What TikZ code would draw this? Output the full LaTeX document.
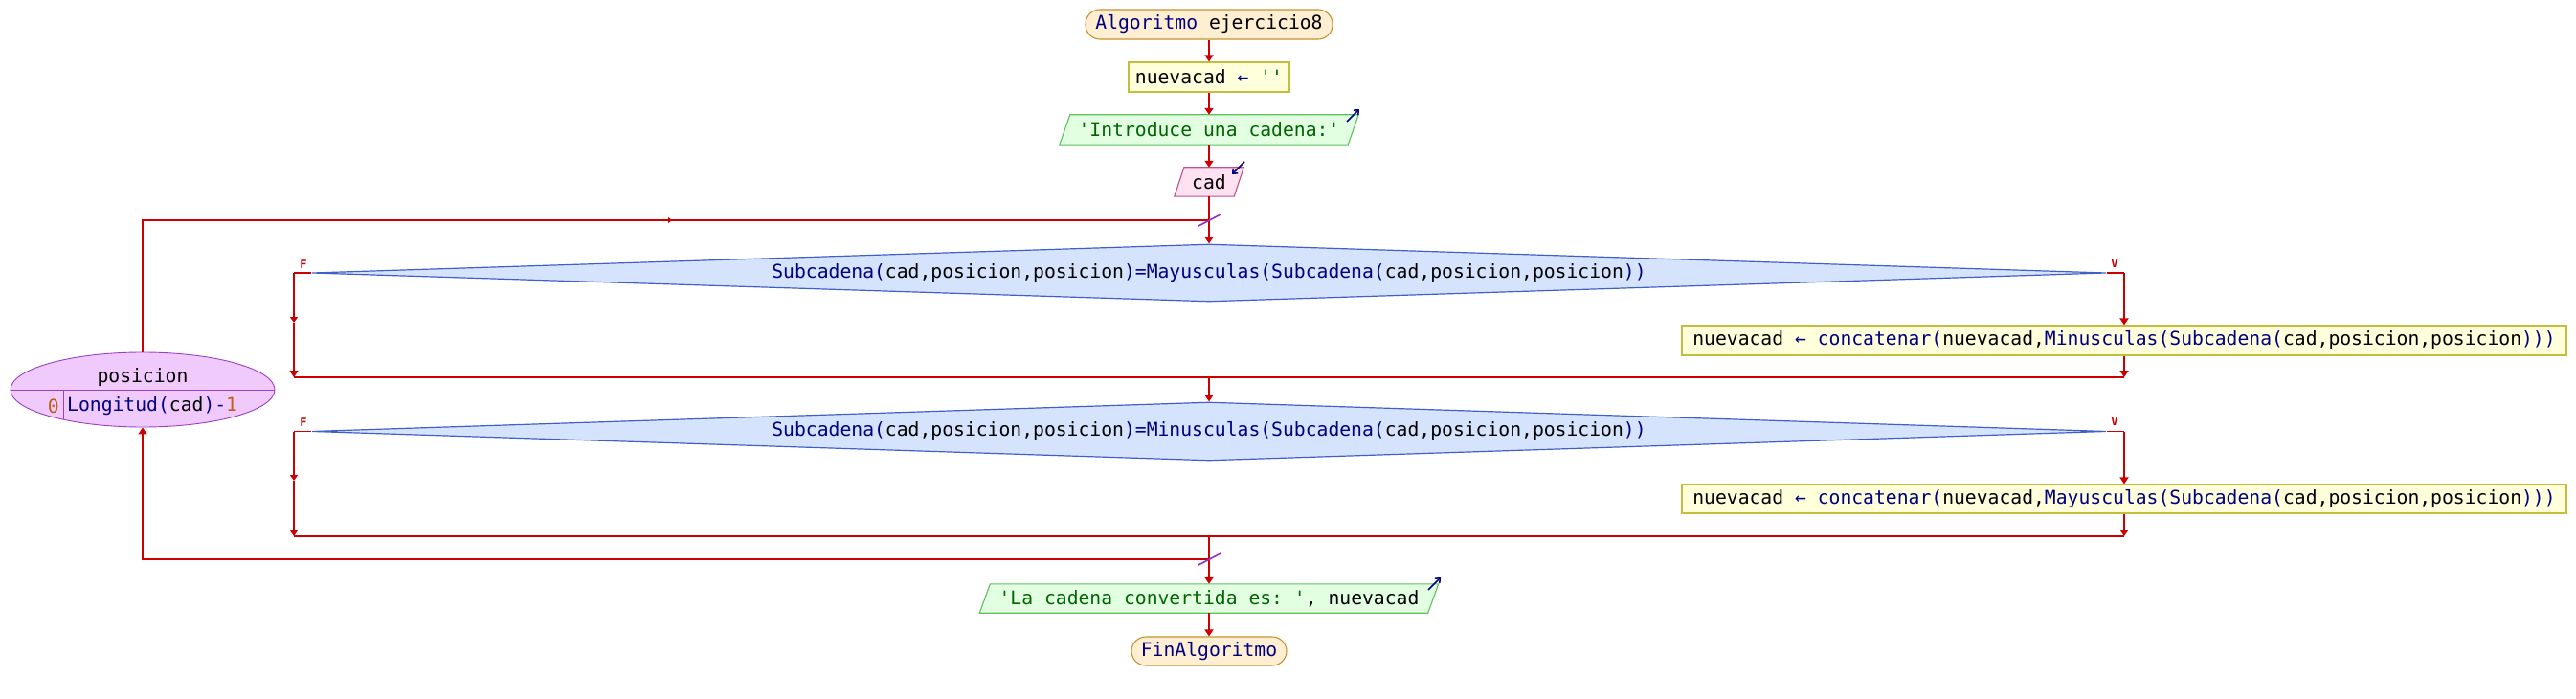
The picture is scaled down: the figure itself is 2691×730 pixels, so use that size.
\documentclass[tikz,border=0pt]{standalone}
\usepackage{fontspec}
\setmonofont{DejaVu Sans Mono}
\usetikzlibrary{arrows.meta,shapes.geometric,backgrounds,calc}
\definecolor{lnred}{HTML}{CC0000}
\definecolor{kw}{HTML}{000080}
\definecolor{strg}{HTML}{006400}
\definecolor{numc}{HTML}{C06010}
\definecolor{termfill}{HTML}{FFEFD2}
\definecolor{termdraw}{HTML}{C8902F}
\definecolor{asgfill}{HTML}{FFFFDC}
\definecolor{asgdraw}{HTML}{C4BE3C}
\definecolor{outfill}{HTML}{E2FFE2}
\definecolor{outdraw}{HTML}{5CC05C}
\definecolor{infill}{HTML}{FFE2F2}
\definecolor{indraw}{HTML}{C0508A}
\definecolor{decfill}{HTML}{D6E3FC}
\definecolor{decdraw}{HTML}{4060C8}
\definecolor{forfill}{HTML}{F0CAFC}
\definecolor{fordraw}{HTML}{9A40C8}
\definecolor{slashc}{HTML}{9030C8}
\newcommand{\kwd}[1]{\textcolor{kw}{#1}}
\newcommand{\strc}[1]{\textcolor{strg}{#1}}
\newcommand{\numk}[1]{\textcolor{numc}{#1}}
\newcommand{\paraframe}[4]{% name, offset, fill, draw
  \path[draw=#4,fill=#3,line width=1.1pt]
    ($(#1.north west)+(#2,0)$) -- ($(#1.north east)+(#2,0)$) --
    ($(#1.south east)+(-#2,0)$) -- ($(#1.south west)+(-#2,0)$) -- cycle;}
\begin{document}
\begin{tikzpicture}[x=1pt,y=-1pt,
  every node/.style={font=\fontsize{19.7}{22}\selectfont\ttfamily, inner sep=0pt},
  term/.style={draw=termdraw, fill=termfill, line width=1.1pt, rounded corners=15pt, minimum height=31pt},
  asg/.style={draw=asgdraw, fill=asgfill, line width=1.1pt, minimum height=31pt},
  iobox/.style={minimum height=31pt},
  dec/.style={diamond, aspect=31, draw=decdraw, fill=decfill, line width=1.2pt, minimum width=1874pt, minimum height=60pt},
  forloop/.style={ellipse, draw=fordraw, fill=forfill, line width=0.9pt, minimum width=276pt, minimum height=78pt},
  conn/.style={draw=lnred, line width=1.7pt, -{Triangle[width=9pt,length=7pt]}},
  plain/.style={draw=lnred, line width=1.7pt},
  joinl/.style={draw=lnred, line width=2.4pt},
  midarr/.style={draw=lnred, line width=1.5pt, -{Triangle[width=8pt,length=6pt]}},
  lbl/.style={font=\fontsize{12}{13}\selectfont\ttfamily\bfseries, text=lnred},
  slash/.style={draw=slashc, line width=1.6pt},
  icon/.style={draw=kw, line width=1.5pt, -{Straight Barb[length=4pt,width=7pt]}}
]
\useasboundingbox (0,0) rectangle (2691,730);

% nodes
\node[term, minimum width=258pt] (start) at (1263,25.5) {\kwd{Algoritmo} ejercicio8};
\node[asg, minimum width=168pt] (asg0) at (1263,80.5) {nuevacad \kwd{←} \strc{''}};
\node[iobox, minimum width=301pt] (out1) at (1263,135.5) {\strc{'Introduce una cadena:'}};
\node[iobox, minimum width=62pt, minimum height=30pt] (in1) at (1263,190) {cad};
\node[dec] (d1) at (1263,285) {\kwd{Subcadena(}cad,posicion,posicion\kwd{)=Mayusculas(Subcadena(}cad,posicion,posicion\kwd{))}};
\node[asg, minimum width=924pt] (b1) at (2219,355.5) {nuevacad \kwd{← concatenar(}nuevacad,\kwd{Minusculas(Subcadena(}cad,posicion,posicion\kwd{)))}};
\node[dec, minimum height=61pt] (d2) at (1263,450.5) {\kwd{Subcadena(}cad,posicion,posicion\kwd{)=Minusculas(Subcadena(}cad,posicion,posicion\kwd{))}};
\node[asg, minimum width=924pt, minimum height=30pt] (b2) at (2219,521) {nuevacad \kwd{← concatenar(}nuevacad,\kwd{Mayusculas(Subcadena(}cad,posicion,posicion\kwd{)))}};
\node[iobox, minimum width=468pt, minimum height=30pt] (out2) at (1263,625) {\strc{'La cadena convertida es: '}, nuevacad};
\node[term, minimum width=162pt, minimum height=30pt] (fin) at (1263,680) {\kwd{FinAlgoritmo}};
\node[forloop] (loop) at (149,407) {};
\node (lvar) at (149,394) {posicion};
\node[anchor=east] (lini) at (62,424) {\numk{0}};
\node[anchor=west] (lfin) at (70,424) {\kwd{Longitud(}cad\kwd{)-}\numk{1}};

% io shapes on background
\begin{scope}[on background layer]
  \paraframe{out1}{5.5}{outfill}{outdraw}
  \paraframe{in1}{5}{infill}{indraw}
  \paraframe{out2}{5.5}{outfill}{outdraw}
\end{scope}

% loop ellipse dividers
\draw[fordraw, line width=0.9pt] (loop.west) -- (loop.east);
\coordinate (vdt) at (66,407);
\coordinate (vdb) at (66,438);
\draw[fordraw, line width=0.9pt] (vdt) -- (vdb);

% icons
\coordinate (i1a) at (1407,127); \coordinate (i1b) at (1420,114);
\draw[icon] (i1a) -- (i1b);
\coordinate (i2a) at (1300,169); \coordinate (i2b) at (1287,182);
\draw[icon] (i2a) -- (i2b);
\coordinate (i3a) at (1492,616); \coordinate (i3b) at (1505,603);
\draw[icon] (i3a) -- (i3b);

% coordinates
\coordinate (jtop) at (1263,230);
\coordinate (ltop) at (149,230);
\coordinate (lmark) at (702,230);
\coordinate (lmark0) at (690,230);
\coordinate (fl1) at (307,285);
\coordinate (fm1) at (307,337);
\coordinate (fb1) at (307,394);
\coordinate (vr1) at (2219,285);
\coordinate (vb1) at (2219,394);
\coordinate (c1) at (1263,394);
\coordinate (fl2) at (307,450.5);
\coordinate (fm2) at (307,502);
\coordinate (fb2) at (307,560);
\coordinate (vr2) at (2219,450.5);
\coordinate (vb2) at (2219,560);
\coordinate (c2) at (1263,560);
\coordinate (jbot) at (1263,584);
\coordinate (lbot) at (149,584);

% connectors
\draw[conn] (start) -- (asg0);
\draw[conn] (asg0) -- (out1);
\draw[conn] (out1) -- (in1);
\draw[conn] (in1) -- (d1.north);
\draw[plain] (loop.north) -- (ltop) -- (jtop);
\draw[draw=lnred, line width=1.2pt, -{Triangle[width=6pt,length=4pt]}] (lmark0) -- (lmark);
\draw[plain] (d1.west) -- (fl1);
\draw[midarr] (fl1) -- (fm1);
\draw[conn] (fm1) -- (fb1);
\draw[plain] (d1.east) -- (vr1);
\draw[conn] (vr1) -- (b1.north);
\draw[conn] (b1.south) -- (vb1);
\draw[joinl] (fb1) -- (vb1);
\draw[conn] (c1) -- (d2.north);
\draw[plain] (d2.west) -- (fl2);
\draw[midarr] (fl2) -- (fm2);
\draw[conn] (fm2) -- (fb2);
\draw[plain] (d2.east) -- (vr2);
\draw[conn] (vr2) -- (b2.north);
\draw[conn] (b2.south) -- (vb2);
\draw[joinl] (fb2) -- (vb2);
\draw[conn] (c2) -- (out2.north);
\draw[conn] (jbot) -- (lbot) -- (loop.south);
\draw[conn] (out2.south) -- (fin);

% slashes
\draw[slash] ($(jtop)+(-11,6)$) -- ($(jtop)+(12,-6)$);
\draw[slash] ($(jbot)+(-11,6)$) -- ($(jbot)+(12,-6)$);

% branch labels
\node[lbl] (f1) at (317,276) {F};
\node[lbl] (v1) at (2209,275) {V};
\node[lbl] (f2) at (317,441) {F};
\node[lbl] (v2) at (2209,440) {V};
\end{tikzpicture}
\end{document}
